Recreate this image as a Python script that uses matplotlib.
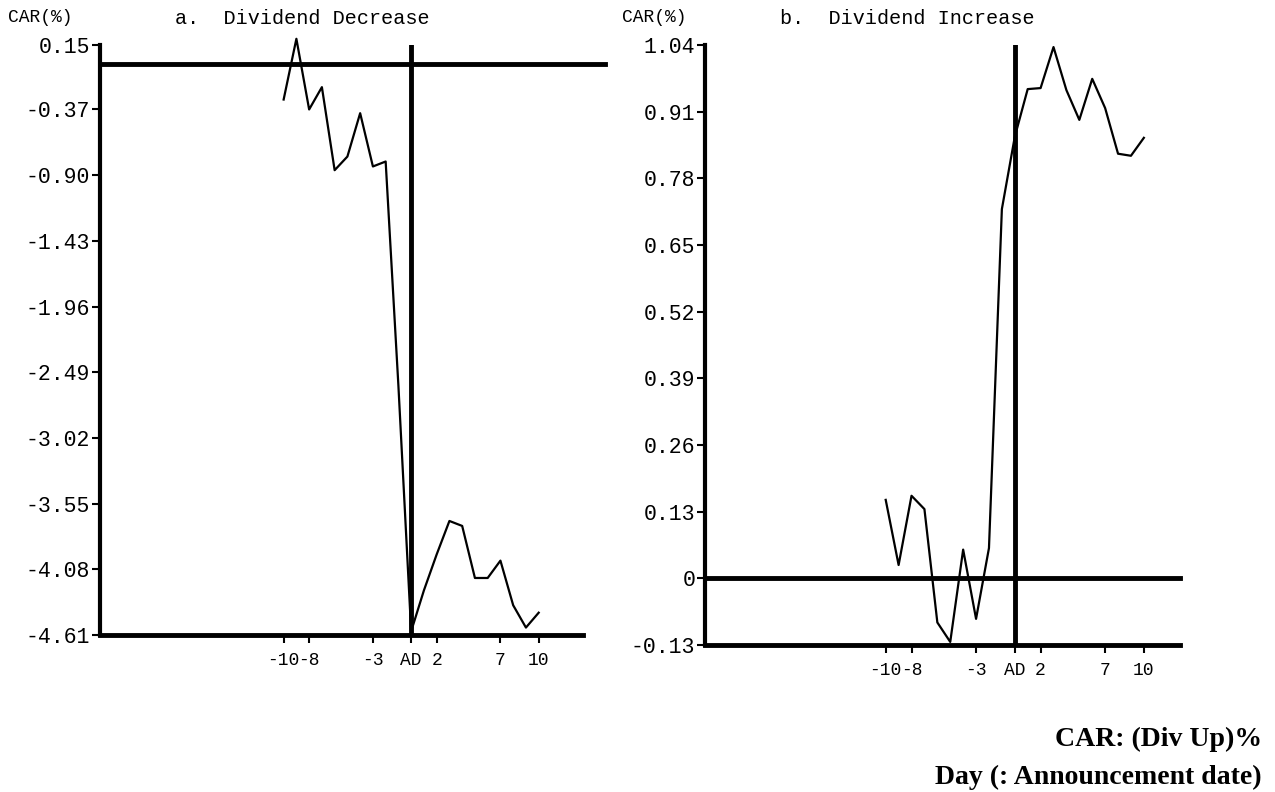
import matplotlib.pyplot as plt

# event window days, AD = announcement day (0)
days = list(range(-10, 11))
car_decrease = [-0.29, 0.20, -0.37, -0.19, -0.86, -0.75, -0.40, -0.83, -0.79, -2.60, -4.58,
                -4.25, -3.96, -3.69, -3.73, -4.15, -4.15, -4.01, -4.37, -4.55, -4.43]
car_increase = [0.153, 0.026, 0.161, 0.135, -0.086, -0.124, 0.056, -0.079, 0.059, 0.72, 0.861,
                0.954, 0.956, 1.036, 0.952, 0.894, 0.974, 0.917, 0.828, 0.824, 0.859]

xtick_pos = [-10, -8, -3, 0, 2, 7, 10]
xtick_lab = ['-10', '-8', '-3', 'AD', '2', '7', '10']

yticks_a = [0.15, -0.37, -0.90, -1.43, -1.96, -2.49, -3.02, -3.55, -4.08, -4.61]
ylab_a = ['0.15', '-0.37', '-0.90', '-1.43', '-1.96', '-2.49', '-3.02', '-3.55', '-4.08', '-4.61']
yticks_b = [1.04, 0.91, 0.78, 0.65, 0.52, 0.39, 0.26, 0.13, 0, -0.13]
ylab_b = ['1.04', '0.91', '0.78', '0.65', '0.52', '0.39', '0.26', '0.13', '0', '-0.13']

mono = ['Liberation Mono', 'DejaVu Sans Mono']
W, H = 1275, 792

fig = plt.figure(figsize=(12.75, 7.92), dpi=100)


def setup(ax, xlim, xend, ylim, yt, yl):
    ax.set_xlim(*xlim)
    ax.set_ylim(*ylim)
    for s in ['top', 'right']:
        ax.spines[s].set_visible(False)
    ax.spines['left'].set_linewidth(3)
    ax.spines['bottom'].set_linewidth(3.5)
    ax.spines['bottom'].set_bounds(xlim[0], xend)
    ax.set_yticks(yt)
    ax.set_yticklabels(yl, family=mono, fontsize=15.5)
    ax.set_xticks(xtick_pos)
    ax.set_xticklabels(xtick_lab, family=mono, fontsize=13)
    ax.tick_params(axis='y', direction='out', length=6, width=1.5, pad=1)
    ax.tick_params(axis='x', direction='out', length=6, width=1.5, pad=6)
    ax.axvline(0, color='black', lw=3.5)
    ax.plot([xlim[0], xlim[1]], [0, 0], color='black', lw=3.5, clip_on=False)


# a. Dividend Decrease
ax1 = fig.add_axes([100 / W, 1 - 635 / H, 505 / W, 590 / H])
setup(ax1, (-24.4, 15.2), 13.5, (-4.61, 0.15), yticks_a, ylab_a)
ax1.plot(days, car_decrease, color='black', lw=1.6, clip_on=False)

# b. Dividend Increase
ax2 = fig.add_axes([705 / W, 1 - 645 / H, 475 / W, 600 / H])
setup(ax2, (-24.0, 12.8), 12.8, (-0.13, 1.04), yticks_b, ylab_b)
ax2.plot(days, car_increase, color='black', lw=1.6, clip_on=False)

fig.text(8 / W, 1 - 18 / H, 'CAR(%)', family=mono, fontsize=13, va='center')
fig.text(175 / W, 1 - 18 / H, 'a.  Dividend Decrease', family=mono, fontsize=14.5, va='center')
fig.text(622 / W, 1 - 18 / H, 'CAR(%)', family=mono, fontsize=13, va='center')
fig.text(780 / W, 1 - 18 / H, 'b.  Dividend Increase', family=mono, fontsize=14.5, va='center')

fig.text(1262 / W, 1 - 739 / H, 'CAR: (Div Up)%', family='Liberation Serif',
         fontweight='bold', fontsize=20, ha='right', va='center')
fig.text(1262 / W, 1 - 777 / H, 'Day (: Announcement date)', family='Liberation Serif',
         fontweight='bold', fontsize=20, ha='right', va='center')

fig.savefig('out.png', dpi=100)
